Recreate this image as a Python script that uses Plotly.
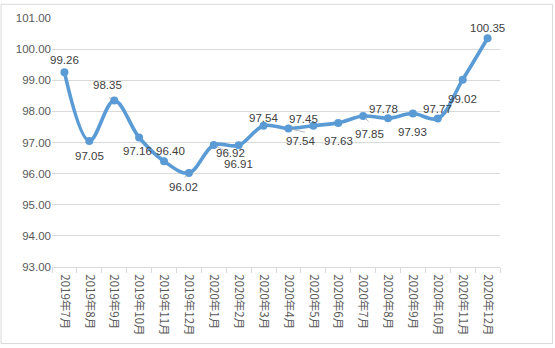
import plotly.graph_objects as go

months = ["2019年7月", "2019年8月", "2019年9月", "2019年10月", "2019年11月", "2019年12月",
          "2020年1月", "2020年2月", "2020年3月", "2020年4月", "2020年5月", "2020年6月",
          "2020年7月", "2020年8月", "2020年9月", "2020年10月", "2020年11月", "2020年12月"]
values = [99.26, 97.05, 98.35, 97.16, 96.40, 96.02, 96.92, 96.91, 97.54, 97.45,
          97.54, 97.63, 97.85, 97.78, 97.93, 97.77, 99.02, 100.35]
y_ticks = [93, 94, 95, 96, 97, 98, 99, 100, 101]

# label offsets in pixels (dx, dy) relative to point
label_offsets = [(0, 12), (0, -15), (-7, 15), (-2, -13), (6, 10), (-5, -14),
                 (17, -8), (0, -19), (0, 8), (15, 9), (-13, -15), (0, -18),
                 (6, -18), (-5, 9), (0, -18), (0, 10), (0, -19), (0, 10)]
# leader lines: index -> (ax, ay) pixel offset of line tail from the point
leader_specs = {2: (-7, -4), 5: (-6, 6), 6: (17, 9), 9: (18, 4), 12: (7, 7)}

fig = go.Figure()
fig.add_trace(go.Scatter(
    x=months, y=values, mode="lines+markers",
    line=dict(color="#5B9BD5", width=3.6, shape="spline", smoothing=1),
    marker=dict(color="#5B9BD5", size=8),
    hoverinfo="skip", showlegend=False))

for i, (ax, ay) in leader_specs.items():
    fig.add_annotation(x=months[i], y=values[i], text="", showarrow=True,
                       arrowhead=0, arrowwidth=0.8, arrowcolor="#a6a6a6",
                       ax=ax, ay=ay, standoff=3)

for i, (m, v) in enumerate(zip(months, values)):
    dx, dy = label_offsets[i]
    fig.add_annotation(x=m, y=v, text=f"{v:.2f}", showarrow=False,
                       xshift=dx, yshift=dy,
                       font=dict(family="Liberation Sans, Arial", size=11.5, color="#404040"))

fig.add_shape(type="rect", xref="paper", yref="paper",
              x0=-0.1138, x1=1.1172, y0=-0.3075, y1=1.055,
              line=dict(color="#d9d9d9", width=1), fillcolor="rgba(0,0,0,0)", layer="below")

fig.update_layout(
    width=555, height=348,
    margin=dict(l=52, r=55, t=15, b=80),
    paper_bgcolor="white", plot_bgcolor="white",
    xaxis=dict(type="category", tickangle=90, showgrid=False,
               showline=True, linecolor="#d9d9d9", linewidth=1,
               ticks="outside", tickson="boundaries", ticklen=5, tickcolor="#d9d9d9",
               ticklabelstandoff=4,
               tickfont=dict(family="Noto Sans CJK SC", size=11.5, color="#595959"),
               range=[-0.5, 17.5]),
    yaxis=dict(range=[93, 101], tickvals=y_ticks, tickformat=".2f",
               showgrid=True, gridcolor="#d9d9d9", gridwidth=1, zeroline=False,
               showline=False, ticks="",
               tickfont=dict(family="Liberation Sans, Arial", size=11.5, color="#595959")),
)

fig.write_html("out.html")
